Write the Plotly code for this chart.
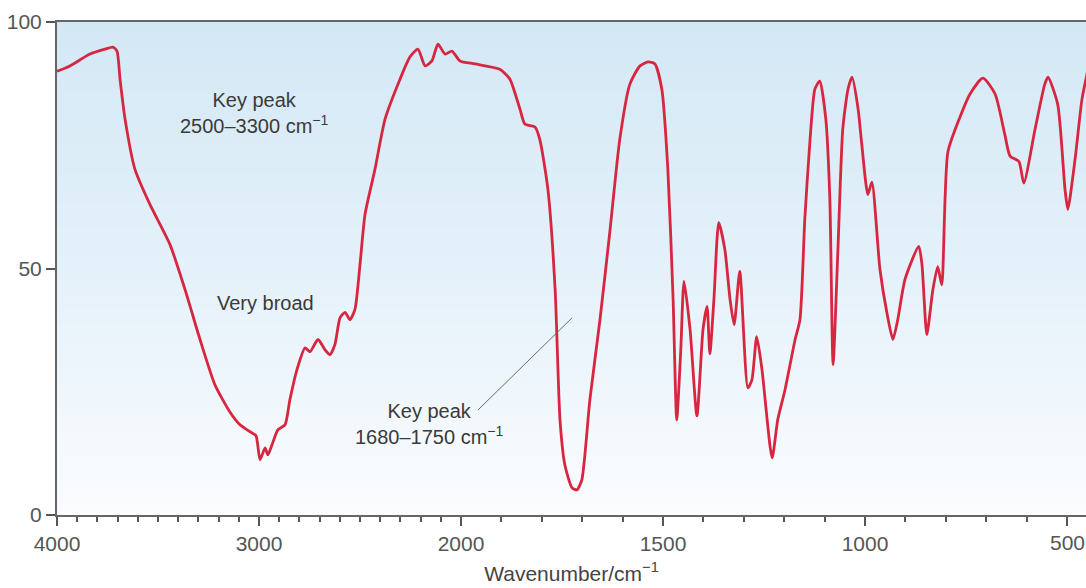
import plotly.graph_objects as go

# ---- data (wavenumber in cm^-1, transmittance %) ----
wavenumber = [4000, 3936, 3837, 3762, 3723, 3703, 3688, 3663, 3614, 3540, 3441, 3366, 3292, 3218,
              3144, 3094, 3045, 3015, 2995, 2970, 2956, 2936, 2906, 2871, 2847, 2812, 2772, 2748,
              2708, 2673, 2649, 2624, 2599, 2574, 2550, 2525, 2500, 2475, 2426, 2376, 2302, 2253,
              2213, 2178, 2144, 2114, 2079, 2045, 2005, 1965, 1904, 1879, 1854, 1842, 1817, 1805,
              1785, 1767, 1755, 1743, 1725, 1713, 1701, 1681, 1656, 1631, 1607, 1582, 1557, 1537,
              1520, 1503, 1488, 1475, 1466, 1456, 1448, 1433, 1416, 1401, 1391, 1384, 1374, 1362,
              1347, 1334, 1324, 1310, 1290, 1280, 1268, 1255, 1230, 1216, 1198, 1173, 1161, 1149,
              1136, 1124, 1112, 1097, 1087, 1079, 1067, 1055, 1042, 1032, 1017, 1008, 993, 983,
              963, 946, 931, 919, 901, 867, 859, 847, 832, 820, 810, 795, 765, 740, 708, 678, 654,
              641, 619, 607, 579, 555, 547, 523, 505, 498, 480, 463, 448]
transmittance = [90.0, 91.1, 93.5, 94.5, 94.9, 94.1, 88.4, 80.3, 70.1, 63.0, 54.9, 45.7, 35.6, 26.4,
                 20.9, 18.3, 16.9, 16.1, 11.2, 13.6, 12.2, 14.2, 17.3, 18.3, 23.4, 29.5, 33.9, 33.1,
                 35.6, 33.5, 32.5, 34.6, 40.0, 41.1, 39.6, 41.7, 50.8, 61.0, 70.1, 80.3, 88.4, 92.9,
                 94.5, 91.1, 92.1, 95.5, 93.5, 94.1, 92.1, 91.5, 90.4, 88.4, 82.3, 79.3, 78.7, 76.2,
                 66.1, 45.7, 19.3, 10.2, 5.5, 5.1, 7.1, 23.4, 39.6, 57.9, 76.2, 87.4, 91.1, 91.9,
                 91.5, 86.4, 70.1, 43.7, 19.3, 33.5, 47.4, 37.6, 20.1, 37.6, 42.3, 32.7, 43.7, 59.3,
                 53.9, 43.7, 38.6, 49.4, 25.8, 27.4, 36.2, 29.5, 11.6, 19.3, 25.4, 35.6, 39.6, 60.0,
                 76.2, 86.4, 88.0, 80.3, 64.0, 30.5, 53.9, 78.3, 86.4, 88.8, 82.3, 75.2, 65.0, 67.5,
                 49.8, 41.1, 35.6, 39.6, 47.8, 54.5, 50.8, 36.6, 45.7, 50.4, 46.7, 73.6, 80.7, 85.4,
                 88.6, 85.4, 77.2, 72.8, 71.7, 67.3, 78.3, 87.4, 88.8, 83.3, 66.1, 62.0, 72.2, 84.3,
                 90.4]

major_ticks = [4000, 3000, 2000, 1500, 1000, 500]
major_labels = ["4000", "3000", "2000", "1500", "1000", "500"]
y_ticks = [0, 50, 100]
x_title = "Wavenumber/cm<sup>−1</sup>"


# IR charts use a scale that doubles below 2000 cm^-1: map wavenumber -> axis coordinate
def axis_pos(wn):
    return 4000 - wn if wn >= 2000 else 2000 + (2000 - wn) * 2


x_pos = [axis_pos(w) for w in wavenumber]
minor_wn = [w for w in range(4000, 400, -100) if w not in major_ticks]
x_right = 5094

FONT = "Liberation Sans, Arial, sans-serif"
TICK_FONT = dict(family=FONT, size=21, color="#555")

fig = go.Figure()

# gradient background
fig.add_trace(go.Heatmap(
    x=[0, x_right], y=[i for i in range(0, 101, 5)],
    z=[[v, v] for v in range(0, 101, 5)],
    colorscale=[[0, "#fbfcfe"], [0.1, "#f6fafd"], [0.5, "#e4f1fa"], [1, "#d3e8f5"]],
    showscale=False, hoverinfo="skip", zsmooth="best",
))

fig.add_trace(go.Scatter(
    x=x_pos, y=transmittance, mode="lines",
    line=dict(color="#d7263f", width=2.8, shape="spline", smoothing=0.6),
    hoverinfo="skip", showlegend=False,
))

ann_font = dict(family=FONT, size=20, color="#3a3a3a")
fig.add_annotation(x=axis_pos(3020), y=81.5, text="Key peak<br>2500–3300 cm<sup>−1</sup>",
                   showarrow=False, font=ann_font, align="center")
fig.add_annotation(x=axis_pos(2970), y=43, text="Very broad",
                   showarrow=False, font=ann_font, align="center")
fig.add_annotation(x=axis_pos(2154), y=18.5, text="Key peak<br>1680–1750 cm<sup>−1</sup>",
                   showarrow=False, font=ann_font, align="center")
fig.add_shape(type="line", x0=axis_pos(1958), y0=21.3, x1=axis_pos(1725), y1=40.0,
              line=dict(color="#6a6a6a", width=1))

# the 500 label is drawn as an annotation so it may run off the right edge like the reference
fig.add_annotation(x=axis_pos(500), y=0, yref="y", yshift=-27, text=major_labels[-1],
                   showarrow=False, font=TICK_FONT, xanchor="center", yanchor="middle")

fig.update_layout(
    width=1086, height=588,
    margin=dict(l=57, r=0, t=22, b=73),
    paper_bgcolor="white", plot_bgcolor="white",
    showlegend=False,
    xaxis=dict(
        range=[0, x_right], tickmode="array",
        tickvals=[axis_pos(w) for w in major_ticks], ticktext=major_labels[:-1] + [""],
        ticks="outside", ticklen=9, tickwidth=1.5, tickcolor="#555",
        showline=True, linecolor="#666", linewidth=2, mirror=True,
        showgrid=False, zeroline=False,
        tickfont=TICK_FONT,
        minor=dict(tickvals=[axis_pos(w) for w in minor_wn], ticks="outside",
                   ticklen=5, tickwidth=1.5, tickcolor="#555", showgrid=False),
        title=dict(text=x_title, font=dict(family=FONT, size=21, color="#444"), standoff=12),
    ),
    yaxis=dict(
        range=[0, 100], tickmode="array", tickvals=y_ticks,
        ticks="outside", ticklen=9, tickwidth=1.5, tickcolor="#555",
        showline=True, linecolor="#666", linewidth=2,
        showgrid=False, zeroline=False,
        tickfont=TICK_FONT,
    ),
)

fig.write_html("out.html")
